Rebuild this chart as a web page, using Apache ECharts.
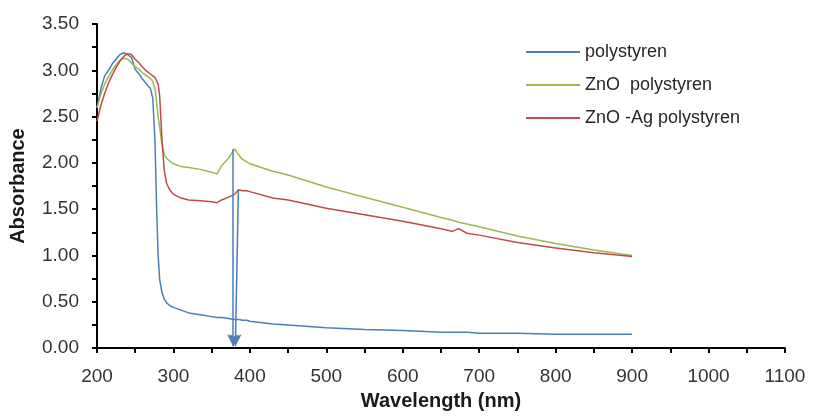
<!DOCTYPE html>
<html>
<head>
<meta charset="utf-8">
<script src="https://cdn.jsdelivr.net/npm/echarts@6/dist/echarts.min.js"></script>
<style>
html,body{margin:0;padding:0;background:#fff;}
#chart{width:815px;height:416px;}
</style>
</head>
<body>
<div id="chart"></div>
<script>
var wavelengths = [200,205,210,215,220,225,230,235,240,245,250,255,260,265,270,273,276,278,280,282,285,288,291,295,300,310,320,335,350,357,363,372,380,385,390,396,400,430,450,500,550,600,650,665,673,684,700,750,800,850,900];
var polystyren = [2.59,2.80,2.94,3.00,3.07,3.12,3.17,3.19,3.17,3.14,3.01,2.96,2.90,2.85,2.80,2.70,2.20,1.50,1.00,0.74,0.60,0.53,0.49,0.46,0.44,0.41,0.38,0.36,0.34,0.33,0.33,0.32,0.31,0.31,0.30,0.30,0.29,0.26,0.25,0.22,0.20,0.19,0.17,0.17,0.17,0.17,0.16,0.16,0.15,0.15,0.15];
var znoPolystyren = [2.60,2.74,2.85,2.93,3.00,3.06,3.11,3.13,3.12,3.08,3.04,3.01,2.97,2.94,2.91,2.88,2.80,2.65,2.50,2.38,2.20,2.09,2.05,2.02,1.99,1.96,1.95,1.93,1.90,1.88,1.97,2.05,2.15,2.09,2.04,2.01,1.99,1.91,1.87,1.74,1.63,1.52,1.41,1.38,1.36,1.34,1.31,1.21,1.13,1.06,1.00];
var znoAgPolystyren = [2.45,2.62,2.75,2.86,2.95,3.03,3.10,3.15,3.18,3.17,3.12,3.08,3.03,2.99,2.96,2.94,2.92,2.90,2.85,2.72,2.25,1.92,1.78,1.71,1.66,1.62,1.60,1.59,1.58,1.57,1.60,1.63,1.66,1.71,1.70,1.70,1.69,1.62,1.60,1.51,1.44,1.37,1.29,1.26,1.29,1.24,1.22,1.14,1.08,1.03,0.99];
var seriesNames = ['polystyren','ZnO  polystyren','ZnO -Ag polystyren'];
var arrowStarts = [[378,2.15],[385,1.71]];
var arrowEnds = [[378,0.02],[381,0.02]];

function pairs(ys){ return wavelengths.map(function(x,i){ return [x, ys[i]]; }); }

var chart = echarts.init(document.getElementById('chart'), null, {renderer:'canvas'});
var font = 'Liberation Sans, Arial, sans-serif';
var colors = ['#4a7ebb','#98b954','#be4b48'];
chart.setOption({
  animation:false,
  color: colors,
  textStyle:{fontFamily:font},
  grid:{left:97, right:30, top:24, bottom:61, containLabel:false},
  legend:{
    orient:'vertical', left:521, top:38, icon:'rect', itemWidth:54, itemHeight:2, itemGap:15,
    textStyle:{fontFamily:font, fontSize:18, lineHeight:18, color:'#262626'},
    data: seriesNames
  },
  xAxis:{
    type:'value', min:200, max:1100, interval:100,
    name:'Wavelength (nm)', nameLocation:'middle', nameGap:42,
    nameTextStyle:{fontFamily:font, fontSize:20, fontWeight:'bold', color:'#1a1a1a'},
    axisLine:{show:true, lineStyle:{color:'#000', width:2}},
    axisTick:{show:true, inside:false, length:5, lineStyle:{color:'#000', width:2}},
    minorTick:{show:true, splitNumber:2, length:5, lineStyle:{color:'#000', width:2}},
    axisLabel:{fontFamily:font, fontSize:19, color:'#333', margin:19, formatter:function(v){return String(v);}},
    splitLine:{show:false}
  },
  yAxis:{
    type:'value', min:0, max:3.5, interval:0.5,
    name:'Absorbance', nameLocation:'middle', nameGap:69, nameRotate:90,
    nameTextStyle:{fontFamily:font, fontSize:20, fontWeight:'bold', color:'#1a1a1a'},
    axisLine:{show:true, lineStyle:{color:'#000', width:2}},
    axisTick:{show:true, inside:false, length:5, lineStyle:{color:'#000', width:2}},
    minorTick:{show:true, splitNumber:2, length:5, lineStyle:{color:'#000', width:2}},
    axisLabel:{fontFamily:font, fontSize:19, color:'#333', margin:18, formatter:function(v){return v.toFixed(2);}},
    splitLine:{show:false}
  },
  series:[
    {name:seriesNames[0], type:'line', data:pairs(polystyren), symbol:'none', lineStyle:{width:1.5, color:colors[0]},
     markLine:{silent:true, symbol:['none','arrow'], symbolSize:[9,12], label:{show:false},
       lineStyle:{color:'#4a7ebb', width:1.5, type:'solid'},
       data: arrowStarts.map(function(p,i){ return [{coord:p},{coord:arrowEnds[i]}]; })}},
    {name:seriesNames[1], type:'line', data:pairs(znoPolystyren), symbol:'none', lineStyle:{width:1.5, color:colors[1]}},
    {name:seriesNames[2], type:'line', data:pairs(znoAgPolystyren), symbol:'none', lineStyle:{width:1.5, color:colors[2]}}
  ]
});
</script>
</body>
</html>
